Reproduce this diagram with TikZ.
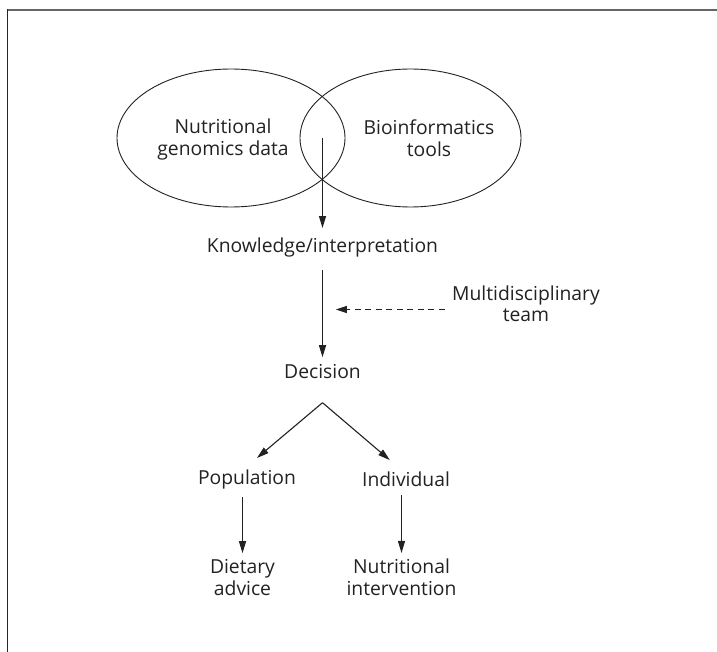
\documentclass[tikz,border=0pt]{standalone}
\usepackage{fontspec}
\setmainfont{Open Sans}
\usetikzlibrary{arrows.meta,shapes.geometric}

\definecolor{ink}{HTML}{222222}

\tikzset{
  lbl/.style={inner sep=0pt, outer sep=0pt, align=center, text=ink,
              font=\fontsize{19.3}{21.8}\selectfont},
  set/.style={ellipse, draw=ink, line width=0.9pt, inner sep=0pt},
  tip/.style={-{Triangle[length=12pt,width=7pt]}},
  flow/.style={draw=ink, line width=1.1pt, tip},
  hint/.style={draw=ink, line width=1.1pt, dash pattern=on 6pt off 4.5pt,
               -{Triangle[length=11pt,width=7pt]}},
}

\begin{document}
\begin{tikzpicture}[x=1pt, y=-1pt]
  % page area and frame
  \fill[white] (0,0) rectangle (717,652);
  \useasboundingbox (0,0) rectangle (717,652);
  \draw[black!60, line width=1.6pt] (7.3,10) -- (717,10);
  \draw[black!85, line width=1.6pt] (7.3,9.2) -- (7.3,652);

  % overlapping sets
  \node[set, minimum width=228pt, minimum height=138pt] (data) at (231,138) {};
  \node[set, minimum width=221pt, minimum height=138pt] (tools) at (410.5,138) {};
  \node[lbl] (nut) at (223,139.5) {Nutritional\\genomics data};
  \node[lbl] (bio) at (429,138) {Bioinformatics\\tools};
  \coordinate (lens) at (322.5,138);

  % chain of steps
  \node[lbl] (know) at (322.5,247) {Knowledge/interpretation};
  \node[lbl] (multi) at (526,303.7) {Multidisciplinary\\team};
  \node[lbl] (dec) at (322.5,372) {Decision};
  \coordinate (split) at (322.5,402.7);
  \node[lbl] (pop) at (247,479) {Population};
  \node[lbl] (ind) at (406,479) {Individual};
  \node[lbl] (diet) at (242.5,577.6) {Dietary\\advice};
  \node[lbl] (nint) at (401.5,577.6) {Nutritional\\intervention};

  % connectors
  \draw[flow, shorten >=9.3pt] (lens) -- (know.north);
  \draw[flow, shorten <=13.3pt, shorten >=7.6pt] (know.south) -- (dec.north);
  \draw[hint, shorten <=7.3pt, shorten >=13.3pt]
    ([yshift=-5.8pt]multi.west) -- ([yshift=-5.8pt]multi.west -| know);
  \draw[flow, shorten >=17.6pt] (split) -- (pop.110);
  \draw[flow, shorten >=17.7pt] (split) -- (ind.110);
  \draw[flow, shorten <=8.3pt, shorten >=6.3pt] (pop.south -| diet) -- (diet.north);
  \draw[flow, shorten <=8.3pt, shorten >=6.3pt] (ind.south -| nint) -- (nint.north);
\end{tikzpicture}
\end{document}
